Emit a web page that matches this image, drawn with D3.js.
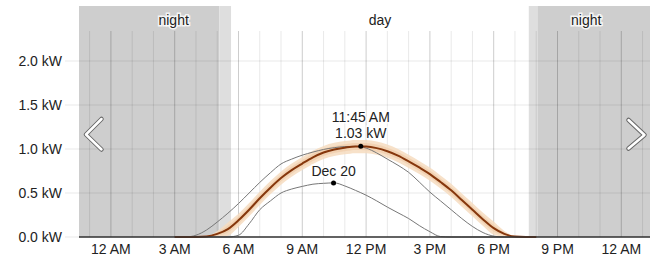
<!DOCTYPE html>
<html>
<head>
<meta charset="utf-8">
<script src="https://cdn.jsdelivr.net/npm/d3@7"></script>
<style>
  body { margin: 0; background: #fff; }
  svg { display: block; font-family: "Liberation Sans", Arial, sans-serif; }
</style>
</head>
<body>
<div id="chart"></div>
<script>
// time of day in hours (0 = midnight)
const hours = [3, 3.5, 4, 4.5, 5, 5.5, 6, 6.5, 7, 7.5, 8, 8.5, 9, 9.5, 10, 10.5, 11, 11.5,
               12, 12.5, 13, 13.5, 14, 14.5, 15, 15.5, 16, 16.5, 17, 17.5, 18, 18.5, 19, 19.5, 20];
// today's forecast (brown)
const todayKw = [0, 0, 0, 0.005, 0.035, 0.09, 0.19, 0.31, 0.44, 0.56, 0.67, 0.76, 0.835, 0.905, 0.96, 0.995, 1.015, 1.028,
                 1.027, 1.01, 0.975, 0.925, 0.86, 0.79, 0.715, 0.625, 0.53, 0.42, 0.31, 0.2, 0.1, 0.035, 0.005, 0, 0];
// upper reference curve (gray)
const upperKw = [0, 0, 0.02, 0.08, 0.17, 0.27, 0.38, 0.5, 0.62, 0.73, 0.83, 0.885, 0.93, 0.965, 0.995, 1.015, 1.028, 1.03,
                 1.01, 0.955, 0.885, 0.815, 0.735, 0.625, 0.51, 0.41, 0.31, 0.21, 0.12, 0.05, 0.01, 0, 0, 0, 0];
// Dec 20 curve (gray)
const decKw = [0, 0, 0, 0, 0, 0, 0.02, 0.15, 0.31, 0.41, 0.5, 0.545, 0.575, 0.6, 0.61, 0.615, 0.58, 0.53,
               0.475, 0.41, 0.34, 0.275, 0.21, 0.13, 0.06, 0.005, 0, 0, 0, 0, 0, 0, 0, 0, 0];

const peakPoint = { hour: 11.75, kw: 1.03, time: '11:45 AM', value: '1.03 kW' };
const decPoint = { hour: 10.47, kw: 0.615, label: 'Dec 20' };

const yTicks = [0, 0.5, 1.0, 1.5, 2.0];
const xTickHours = [0, 3, 6, 9, 12, 15, 18, 21, 24];
const xTickLabels = ['12 AM', '3 AM', '6 AM', '9 AM', '12 PM', '3 PM', '6 PM', '9 PM', '12 AM'];

const nightBands = [[-1.5, 5.1], [20.05, 25.35]];
const twilightBands = [[5.1, 5.65], [19.65, 20.05]];
const periodLabels = ['night', 'day', 'night'];
const periodHours = [2.95, 12.65, 22.35];

const width = 650;
const height = 259;
const margin = { top: 6, right: 0, bottom: 22, left: 79 };
const gridTop = 31;
const baseY = height - margin.bottom;

const xScale = d3.scaleLinear().domain([-1.5, 25.35]).range([margin.left, width - margin.right]);
const yScale = d3.scaleLinear().domain([0, 2]).range([baseY, 61]);

const svg = d3.select('#chart').append('svg')
    .attr('width', width)
    .attr('height', height);

// night / twilight shading
svg.selectAll('.night').data(nightBands).join('rect')
    .attr('class', 'night')
    .attr('x', d => xScale(d[0]))
    .attr('width', d => xScale(d[1]) - xScale(d[0]))
    .attr('y', margin.top)
    .attr('height', baseY - margin.top)
    .attr('fill', '#cecece');

svg.selectAll('.twilight').data(twilightBands).join('rect')
    .attr('class', 'twilight')
    .attr('x', d => xScale(d[0]))
    .attr('width', d => xScale(d[1]) - xScale(d[0]))
    .attr('y', margin.top)
    .attr('height', baseY - margin.top)
    .attr('fill', '#dedede');

// vertical hour grid
const gridHours = d3.range(-1, 26);
svg.selectAll('.vgrid').data(gridHours).join('line')
    .attr('class', 'vgrid')
    .attr('x1', d => xScale(d)).attr('x2', d => xScale(d))
    .attr('y1', gridTop).attr('y2', baseY)
    .attr('stroke', '#000')
    .attr('stroke-opacity', d => (d % 3 === 0 ? 0.2 : 0.09))
    .attr('stroke-width', 1);

// horizontal grid + y labels
svg.selectAll('.hgrid').data(yTicks).join('line')
    .attr('class', 'hgrid')
    .attr('x1', 65).attr('x2', width)
    .attr('y1', d => yScale(d)).attr('y2', d => yScale(d))
    .attr('stroke', '#000')
    .attr('stroke-opacity', 0.09);

svg.selectAll('.ylab').data(yTicks).join('text')
    .attr('class', 'ylab')
    .attr('x', 62)
    .attr('y', d => yScale(d))
    .attr('dy', '0.36em')
    .attr('text-anchor', 'end')
    .style('font-size', '14px')
    .attr('fill', '#222')
    .text(d => d.toFixed(1) + ' kW');

// x labels
svg.selectAll('.xlab').data(xTickHours).join('text')
    .attr('class', 'xlab')
    .attr('x', d => xScale(d))
    .attr('y', 254)
    .attr('text-anchor', 'middle')
    .style('font-size', '14px')
    .attr('fill', '#222')
    .text((d, i) => xTickLabels[i]);

// period labels
svg.selectAll('.plab').data(periodLabels).join('text')
    .attr('class', 'plab')
    .attr('x', (d, i) => xScale(periodHours[i]))
    .attr('y', 24.5)
    .attr('text-anchor', 'middle')
    .style('font-size', '14px')
    .attr('fill', '#222')
    .attr('stroke', '#fff')
    .attr('stroke-width', 3)
    .attr('stroke-opacity', 0.8)
    .attr('paint-order', 'stroke')
    .text(d => d);

// series
const today = hours.map((h, i) => ({ h: h, v: todayKw[i] }));
const upper = hours.map((h, i) => ({ h: h, v: upperKw[i] }));
const dec = hours.map((h, i) => ({ h: h, v: decKw[i] }));

const band = (w) => d3.area()
    .x(d => xScale(d.h))
    .y0(d => yScale(Math.max(0, d.v - w * Math.min(1, d.v / 0.08))))
    .y1(d => yScale(d.v + w * Math.min(1, d.v / 0.08)))
    .curve(d3.curveMonotoneX);

svg.append('path').datum(today)
    .attr('d', band(0.075))
    .attr('fill', '#f6dcc0')
    .attr('fill-opacity', 0.85);
svg.append('path').datum(today)
    .attr('d', band(0.04))
    .attr('fill', '#efc7a0')
    .attr('fill-opacity', 0.55);

const line = d3.line()
    .x(d => xScale(d.h))
    .y(d => yScale(d.v))
    .curve(d3.curveMonotoneX);

svg.append('path').datum(upper)
    .attr('d', line)
    .attr('fill', 'none')
    .attr('stroke', '#777')
    .attr('stroke-width', 1);

svg.append('path').datum(dec)
    .attr('d', line)
    .attr('fill', 'none')
    .attr('stroke', '#777')
    .attr('stroke-width', 1);

svg.append('path').datum(today)
    .attr('d', line)
    .attr('fill', 'none')
    .attr('stroke', '#86370c')
    .attr('stroke-width', 2);

// baseline
svg.append('line')
    .attr('x1', margin.left).attr('x2', width)
    .attr('y1', baseY).attr('y2', baseY)
    .attr('stroke', '#333')
    .attr('stroke-width', 1.5);

// markers
svg.append('circle')
    .attr('cx', xScale(peakPoint.hour)).attr('cy', yScale(peakPoint.kw))
    .attr('r', 2.5).attr('fill', '#000');
svg.append('circle')
    .attr('cx', xScale(decPoint.hour)).attr('cy', yScale(decPoint.kw))
    .attr('r', 2.5).attr('fill', '#000');

const haloText = (x, y, t) => svg.append('text')
    .attr('x', x).attr('y', y)
    .attr('text-anchor', 'middle')
    .style('font-size', '14px')
    .attr('fill', '#222')
    .attr('stroke', '#fff')
    .attr('stroke-width', 3)
    .attr('stroke-opacity', 0.8)
    .attr('paint-order', 'stroke')
    .text(t);

haloText(xScale(peakPoint.hour), yScale(peakPoint.kw) - 24, peakPoint.time);
haloText(xScale(peakPoint.hour), yScale(peakPoint.kw) - 8, peakPoint.value);
haloText(xScale(decPoint.hour), yScale(decPoint.kw) - 7, decPoint.label);

// navigation chevrons
const chevron = (pts) => {
    const p = d3.line()(pts);
    svg.append('path').attr('d', p)
        .attr('fill', 'none').attr('stroke', '#666')
        .attr('stroke-width', 4.5).attr('stroke-linecap', 'round').attr('stroke-linejoin', 'round');
    svg.append('path').attr('d', p)
        .attr('fill', 'none').attr('stroke', '#fff')
        .attr('stroke-width', 2.5).attr('stroke-linecap', 'round').attr('stroke-linejoin', 'round');
};
chevron([[101.5, 119], [86, 134.5], [101.5, 149.5]]);
chevron([[628.5, 120], [644.5, 135], [628.5, 148.5]]);
</script>
</body>
</html>
